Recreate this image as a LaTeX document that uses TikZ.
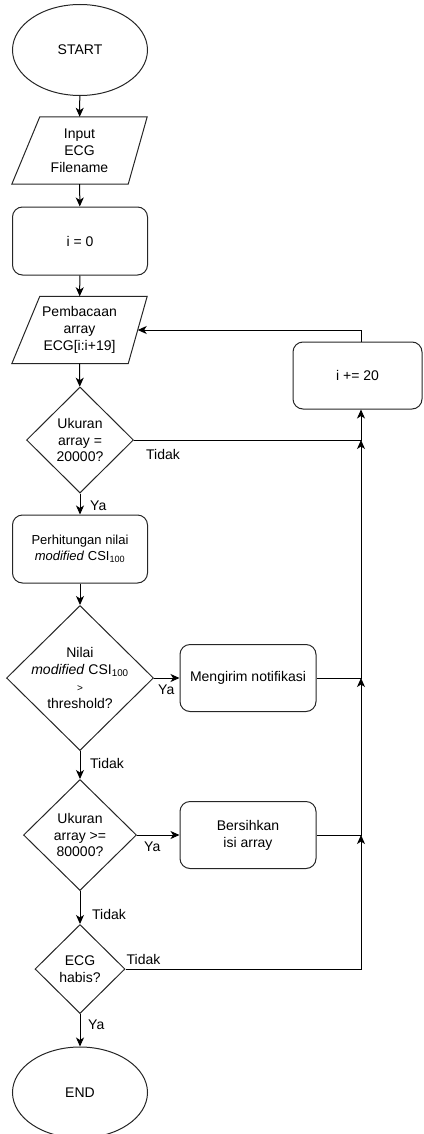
\documentclass[tikz,border=0pt]{standalone}
\usepackage{fontspec}
\setmainfont{Liberation Sans}
\usetikzlibrary{shapes.geometric, arrows.meta, calc}

\tikzset{
  txt/.style={font=\fontsize{14}{16.8}\selectfont, align=center},
  outline/.style={draw=black!85, line width=1pt},
  base/.style={txt, outline, inner sep=0pt},
  terminal/.style={base, ellipse, minimum width=135pt, minimum height=91pt},
  io/.style={txt, inner sep=0pt, minimum width=135pt, minimum height=67pt},
  process/.style={base, rectangle, rounded corners=10pt, minimum width=135pt, minimum height=68pt},
  decision/.style={base, diamond},
  lbl/.style={txt, inner sep=0pt, anchor=west},
  arr/.style={line width=1pt, -{Stealth[length=9pt, width=8pt, inset=2.5pt]}},
}
% garis jajaran genjang untuk node input/output
\newcommand{\ioshape}[1]{%
  \draw[outline] ($(#1.north west)+(28,0)$) -- (#1.north east)
    -- ($(#1.south east)+(-19,0)$) -- (#1.south west) -- cycle;}

\begin{document}
\begin{tikzpicture}[x=1pt, y=-1pt]
    \useasboundingbox (0,0) rectangle (423,1134);

    % kolom utama
    \node[terminal] (start) at (80,50) {START};
    \node[io] (inp) at (79.5,150.5) {Input\\ECG\\Filename};
    \ioshape{inp}
    \node[process] (init) at (80,241) {i = 0};
    \node[io] (read) at (79.5,330) {Pembacaan\\array\\ECG[i:i+19]};
    \ioshape{read}
    \coordinate (readR) at ($(read.east)+(-9.5,0)$);
    \node[decision, minimum width=107pt, minimum height=106pt,
      label={[txt]center:Ukuran\\array =\\20000?}] (d1) at (80,440) {};
    \node[process, font=\fontsize{13}{16}\selectfont] (calc) at (80,549)
      {Perhitungan nilai\\\textit{modified} CSI\textsubscript{100}};
    \node[decision, minimum width=147pt, minimum height=145pt,
      label={[txt]center:Nilai\\\textit{modified} CSI\textsubscript{100}\\{\fontsize{10}{10}\selectfont >}\\threshold?}] (d2) at (80,678) {};
    \node[decision, minimum width=113pt, minimum height=111pt,
      label={[txt]center:Ukuran\\array >=\\80000?}] (d3) at (80,835) {};
    \node[decision, minimum width=90pt, minimum height=89pt,
      label={[txt]center:ECG\\habis?}] (d4) at (80,969) {};
    \node[terminal] (end) at (80,1092.5) {END};

    % kolom kanan
    \node[process, minimum width=136pt, minimum height=67pt] (send) at (248,678) {Mengirim notifikasi};
    \node[process, minimum width=136pt, minimum height=67pt] (clear) at (248,835) {Bersihkan\\isi array};
    \node[process, minimum width=129pt, minimum height=67pt] (inc) at (357.5,375.5) {i += 20};
    \coordinate (xl) at (361,0);

    % alur utama
    \draw[arr] (start) -- (inp);
    \draw[arr] (inp) -- (init);
    \draw[arr] (init) -- (read);
    \draw[arr] (read) -- (d1);
    \draw[arr] (d1) -- (calc);
    \draw[arr] (calc) -- (d2);
    \draw[arr] (d2) -- (d3);
    \draw[arr] (d3) -- (d4);
    \draw[arr] (d4) -- (end);
    \draw[arr] (d2.east) -- (send.west);
    \draw[arr] (d3.east) -- (clear.west);

    % jalur balik
    \draw[arr] (d1.east) -| (inc.south -| xl);
    \draw[arr] (send.east) -| (d1.east -| xl);
    \draw[arr] (clear.east) -| (send.east -| xl);
    \draw[arr] (d4.east) -| (clear.east -| xl);
    \draw[arr] (inc.north -| xl) |- (readR);

    % label cabang
    \node[lbl] (t1) at ($(d1.east)+(12,14)$) {Tidak};
    \node[lbl] (y1) at ($(d1.south)+(10,12)$) {Ya};
    \node[lbl] (y2) at ($(d2.east)+(4,12)$) {Ya};
    \node[lbl] (t2) at ($(d2.south)+(10,12)$) {Tidak};
    \node[lbl] (y3) at ($(d3.east)+(7,12)$) {Ya};
    \node[lbl] (t3) at ($(d3.south)+(12,23)$) {Tidak};
    \node[lbl] (t4) at ($(d4.east)+(1,-10)$) {Tidak};
    \node[lbl] (y4) at ($(d4.south)+(8,11)$) {Ya};
\end{tikzpicture}
\end{document}
